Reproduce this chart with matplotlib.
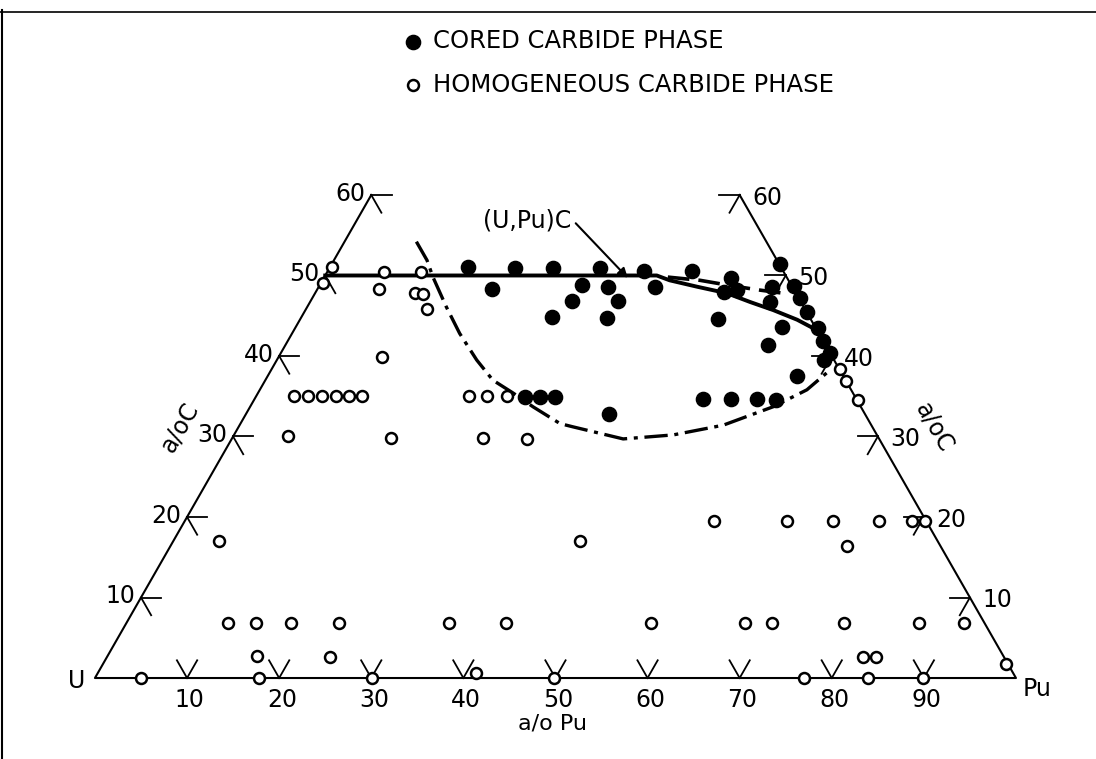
import matplotlib
matplotlib.use("Agg")
import matplotlib.pyplot as plt
from matplotlib.lines import Line2D
import numpy as np

plt.rcParams['font.family'] = ['DejaVu Sans']

# points as (a/o Pu, a/o C)
cored_pu = [14.9, 20.2, 24.3, 29.4, 34.4, 39.6, 44.2, 48.7, 19.0, 28.5, 31.4, 36.5,
            44.4, 45.6, 49.2, 51.5, 52.9, 54.6, 56.8, 58.1, 59.6, 59.4, 28.4, 33.4,
            49.9, 27.2, 33.3, 45.3, 52.8, 52.4, 57.5, 29.2, 30.9, 32.5, 39.4, 48.7,
            51.7, 54.5, 56.7]
cored_c = [51.1, 50.9, 50.9, 50.9, 50.5, 50.5, 49.7, 51.4, 48.3, 48.8, 48.6, 48.6,
           47.9, 48.2, 48.6, 48.7, 47.2, 45.5, 43.5, 41.9, 40.4, 39.5, 46.8, 46.8,
           46.7, 44.8, 44.7, 44.6, 43.6, 41.4, 37.5, 34.9, 34.9, 34.9, 32.8, 34.7,
           34.7, 34.7, 34.5]

homog_pu = [0.2, 0.2, 6.2, 6.7, 10.2, 10.8, 11.8, 13.2, 11.2,
            4.1, 5.6, 7.1, 8.7, 10.1, 11.5, 23.1, 25.1, 27.2,
            5.9, 17.2, 27.2, 32.1, 5.0, 44.2,
            57.5, 65.4, 70.4, 75.4, 79.0, 80.4, 73.5,
            11.0, 14.1, 17.9, 23.1, 35.0, 41.2, 57.0, 67.2, 70.1, 77.9, 86.1, 91.0,
            16.2, 24.2, 82.1, 83.5, 41.1,
            5.0, 17.8, 30.1, 49.8, 77.0, 83.9, 89.9, 98.1,
            61.7, 63.1, 65.6]
homog_c = [51.1, 49.1, 50.4, 48.3, 50.4, 47.8, 47.7, 45.8, 39.9,
           35.0, 35.0, 35.0, 35.0, 35.0, 35.0, 35.0, 35.0, 35.0,
           30.1, 29.8, 29.8, 29.7, 17.0, 17.0,
           19.5, 19.5, 19.5, 19.5, 19.5, 19.5, 16.4,
           6.8, 6.8, 6.8, 6.8, 6.8, 6.8, 6.8, 6.8, 6.8, 6.8, 6.8, 6.8,
           2.7, 2.6, 2.6, 2.6, 0.6,
           0.0, 0.0, 0.0, 0.0, 0.0, 0.0, 0.0, 1.7,
           38.4, 36.9, 34.5]

# phase boundaries
solid_pu = [0, 36.0, 37.7, 41.1, 44.7, 47.8, 50.8, 54.0, 56.8, 58.2]
solid_c = [50, 50.0, 49.4, 48.6, 47.8, 46.7, 45.7, 44.5, 43.2, 41.8]
dashed_pu = [37.3, 41.0, 44.9, 48.0, 51.5]
dashed_c = [49.8, 49.4, 48.7, 48.2, 47.7]
dashdot_pu = [7.8, 10.1, 11.8, 15.1, 18.2, 21.7, 24.7, 27.7, 30.7, 34.7, 36.3,
              42.5, 47.7, 52.5, 56.8, 59.4, 60.5]
dashdot_c = [54.2, 51.9, 49.8, 46.1, 42.8, 39.5, 37.0, 35.4, 33.7, 31.6, 31.2,
             29.7, 30.2, 31.4, 33.7, 35.8, 37.9]

# frame of the truncated triangle and tick values
edge_pu = [0, 0, 100, 40]
edge_c = [60, 0, 0, 60]
c_ticks = [10, 20, 30, 40, 50, 60]
pu_ticks = [10, 20, 30, 40, 50, 60, 70, 80, 90]


def tern(p, c):
    p = np.asarray(p, float)
    c = np.asarray(c, float)
    return p + c / 2, c


fig = plt.figure(figsize=(10.96, 7.59), dpi=100)
ax = fig.add_axes([0, 0, 1, 1])
ax.set_xlim(-10.31, 108.69)
ax.set_ylim(-10.06, 84.22)
ax.axis('off')

ax.plot(*tern(edge_pu, edge_c), color='black', lw=1.5)

L = 2.2
tk = dict(color='black', lw=1.3)
for c in c_ticks:
    # U-C edge
    ax.plot(*tern([0, L], [c, c]), **tk)
    ax.plot(*tern([0, 0 + L], [c, c - L]), **tk)
    ax.annotate(str(c), tern(0, c), xytext=(-4, 1), textcoords='offset points',
                ha='right', va='center', fontsize=17)
    # Pu-C edge
    ax.plot(*tern([100 - c, 100 - c - L], [c, c]), **tk)
    ax.plot(*tern([100 - c, 100 - c], [c, c - L]), **tk)
    ax.annotate(str(c), tern(100 - c, c), xytext=(9, -2), textcoords='offset points',
                ha='left', va='center', fontsize=17)
for p in pu_ticks:
    ax.plot(*tern([p, p - L], [0, L]), **tk)
    ax.plot(*tern([p, p], [0, L]), **tk)
    ax.annotate(str(p), tern(p, 0), xytext=(2, -7), textcoords='offset points',
                ha='center', va='top', fontsize=17)

ax.plot(*tern(solid_pu, solid_c), color='black', lw=2.8, zorder=2)
ax.plot(*tern(dashed_pu, dashed_c), color='black', lw=2.6, ls=(0, (6, 2.5)), zorder=2)
ax.plot(*tern(dashdot_pu, dashdot_c), color='black', lw=2.4,
        ls=(0, (7, 2, 1.2, 2)), zorder=2)

h1 = ax.scatter(*tern(cored_pu, cored_c), s=105, color='black', zorder=4,
                label='CORED CARBIDE PHASE')
h2 = ax.scatter(*tern(homog_pu, homog_c), s=62, facecolor='white', edgecolor='black',
                linewidths=1.8, zorder=4, label='HOMOGENEOUS CARBIDE PHASE')

ax.legend(handles=[h1, h2], loc='upper left', bbox_to_anchor=(403 / 1096, 1 - 29 / 759),
          frameon=False, fontsize=17.5, handlelength=0.8, handletextpad=0.45,
          labelspacing=0.81, borderpad=0, borderaxespad=0)

ax.annotate('(U,Pu)C', xy=tern(33.0, 49.7), xytext=tern(18.5, 56.8),
            ha='center', va='center', fontsize=17,
            arrowprops=dict(arrowstyle='-|>', color='black', lw=1.5,
                            mutation_scale=14, relpos=(1, 0.6), shrinkA=2, shrinkB=0))

ax.annotate('U', tern(0, 0), xytext=(-7, -2), textcoords='offset points',
            ha='right', va='center', fontsize=17)
ax.annotate('Pu', tern(100, 0), xytext=(5, -8), textcoords='offset points',
            ha='left', va='center', fontsize=17)
ax.text(49.7, -5.7, 'a/o Pu', ha='center', va='center', fontsize=16)
ax.text(9.2, 31.2, 'a/oC', rotation=60, ha='center', va='center', fontsize=17)
ax.text(91.1, 31.1, 'a/oC', rotation=-60, ha='center', va='center', fontsize=17)

# scanned page border
fig.add_artist(Line2D([0, 1], [1 - 12 / 759] * 2, transform=fig.transFigure,
                      color='black', lw=1.2))
fig.add_artist(Line2D([2 / 1096] * 2, [0, 1 - 10 / 759], transform=fig.transFigure,
                      color='black', lw=1.5))

fig.savefig('out.png', dpi=100)
